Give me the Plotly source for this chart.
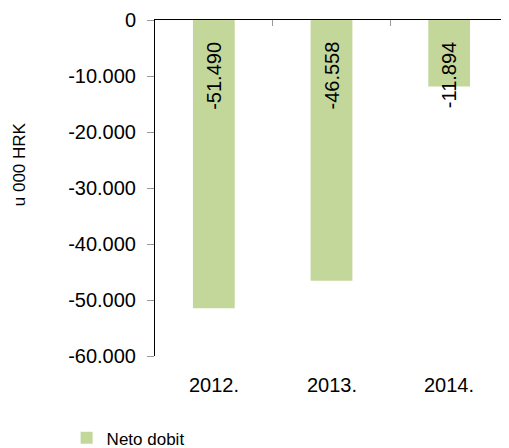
import plotly.graph_objects as go

# ── Data ──────────────────────────────────────────────────────────────────────
years = ["2012.", "2013.", "2014."]
neto_dobit = [-51490, -46558, -11894]
series_name = "Neto dobit"
y_title = "u 000 HRK"
y_ticks = [0, -10000, -20000, -30000, -40000, -50000, -60000]

BAR = "#C4D79B"
FONT = "Arial, Liberation Sans, sans-serif"


def fmt(v):
    # hrvatski format: točka kao separator tisućica, obična crtica za minus
    return f"{v:,}".replace(",", ".")


fig = go.Figure(go.Bar(
    x=years, y=neto_dobit, name=series_name,
    marker=dict(color=BAR, line=dict(width=0)),
    showlegend=True,
))

# "2012." bi se čitao kao broj -> anotacije idu po indeksu kategorije
for i, v in enumerate(neto_dobit):
    fig.add_annotation(
        x=i, y=0, xref="x", yref="y", text=fmt(v),
        textangle=-90, showarrow=False, yanchor="top", yshift=-20,
        font=dict(family=FONT, size=20, color="#000"),
    )

# kategorije ispod grafikona (os x je gore, na nultoj liniji)
for i, cat in enumerate(years):
    fig.add_annotation(
        x=i, y=0, xref="x", yref="paper", text=cat, showarrow=False,
        yanchor="top", yshift=-16, font=dict(family=FONT, size=20, color="#000"),
    )

# naslov osi y
fig.add_annotation(
    x=-0.385, y=0.571, xref="paper", yref="paper", text=y_title,
    textangle=-90, showarrow=False, xanchor="center", yanchor="middle",
    font=dict(family=FONT, size=17, color="#000"),
)

# stranica ima 8px body margine -> figura je manja za 8px
n = len(years)
fig.update_layout(
    width=501, height=440,
    paper_bgcolor="white", plot_bgcolor="white",
    margin=dict(l=147, r=1, t=12, b=92, autoexpand=False),
    font=dict(family=FONT, size=20, color="#000"),
    bargap=0.645,
    showlegend=True,
    legend=dict(xref="container", yref="container", x=0.117, y=0.022,
                xanchor="left", yanchor="middle",
                font=dict(size=17), bgcolor="rgba(0,0,0,0)"),
    xaxis=dict(type="category", range=[-0.5, n - 0.5], autorange=False,
               automargin=False, side="top", showline=True, linecolor="#000",
               linewidth=1, ticks="inside", ticklen=6, tickcolor="#999",
               tickson="boundaries", showticklabels=False, showgrid=False),
    yaxis=dict(range=[min(y_ticks), max(y_ticks)], autorange=False,
               automargin=False,
               tickvals=y_ticks, ticktext=[fmt(t) for t in y_ticks],
               showline=True, linecolor="#000", linewidth=1,
               ticks="outside", ticklen=7, tickcolor="#999",
               ticklabelstandoff=7, showgrid=False, zeroline=False,
               tickfont=dict(size=20)),
)

fig.write_html("out.html")
